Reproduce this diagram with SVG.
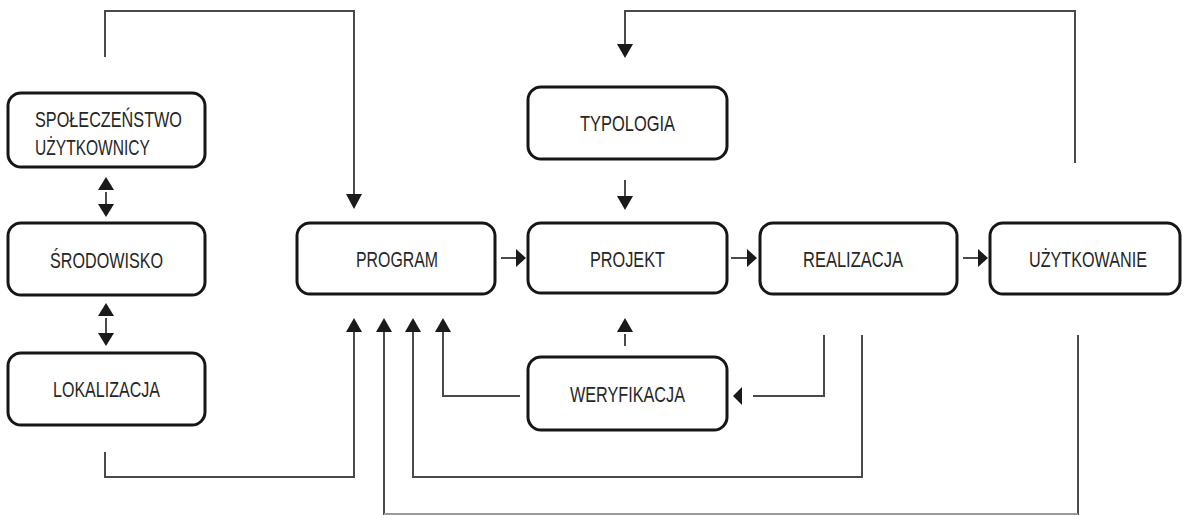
<svg xmlns="http://www.w3.org/2000/svg" width="1184" height="515" viewBox="0 0 1184 515">
  <style>
    .box { fill: #ffffff; stroke: #161616; stroke-width: 3; }
    .lbl { font-family: "Liberation Sans", Arial, sans-serif; font-size: 22px; fill: #262626; text-anchor: middle; }
    .lbl-left { text-anchor: start; }
    .wire { fill: none; stroke: #4a4a4a; stroke-width: 2; }
    .wire-faint { fill: none; stroke: #9a9a9a; stroke-width: 2; }
    .head { fill: #1a1a1a; stroke: none; }
  </style>

  <rect width="1184" height="515" fill="#ffffff"/>

  <!-- connectors -->
  <g id="connectors">
    <!-- feedback loop from the social context into PROGRAM -->
    <path class="wire" d="M105,57 V11 H354 V194"/>
    <polygon class="head" points="346,194 362,194 354,209"/>

    <!-- feedback loop from UŻYTKOWANIE into TYPOLOGIA -->
    <path class="wire" d="M1075,163 V11 H625 V44"/>
    <polygon class="head" points="617,44 633,44 625,58"/>

    <!-- two-way links in the left column -->
    <polygon class="head" points="106,177 98,190 114,190"/>
    <line class="wire" x1="106" y1="192" x2="106" y2="204"/>
    <polygon class="head" points="98,204 114,204 106,217"/>

    <polygon class="head" points="106,303 98,316 114,316"/>
    <line class="wire" x1="106" y1="318" x2="106" y2="333"/>
    <polygon class="head" points="98,333 114,333 106,346"/>

    <!-- TYPOLOGIA to PROJEKT -->
    <line class="wire" x1="625" y1="180" x2="625" y2="196"/>
    <polygon class="head" points="617,196 633,196 625,210"/>

    <!-- WERYFIKACJA to PROJEKT -->
    <polygon class="head" points="625,318 617,332 633,332"/>
    <line class="wire" x1="625" y1="334" x2="625" y2="346"/>

    <!-- main process chain -->
    <line class="wire" x1="501" y1="258" x2="518" y2="258"/>
    <polygon class="head" points="516,249 516,267 526,258"/>
    <line class="wire" x1="731" y1="258" x2="749" y2="258"/>
    <polygon class="head" points="747,249 747,267 757,258"/>
    <line class="wire" x1="963" y1="258" x2="980" y2="258"/>
    <polygon class="head" points="978,249 978,267 988,258"/>

    <!-- returns into PROGRAM from below -->
    <path class="wire" d="M105,452 V477 H354 V332"/>
    <polygon class="head" points="354,318 346,332 362,332"/>

    <path class="wire" d="M1078,335 V515"/>
    <path class="wire" d="M384,332 V515"/>
    <path class="wire-faint" d="M384,514 H1078"/>
    <polygon class="head" points="384,318 376,332 392,332"/>

    <path class="wire" d="M862,335 V477 H413 V332"/>
    <polygon class="head" points="413,318 405,332 421,332"/>

    <path class="wire" d="M520,396 H443 V332"/>
    <polygon class="head" points="443,318 435,332 451,332"/>

    <!-- REALIZACJA back to WERYFIKACJA -->
    <path class="wire" d="M824,335 V396 H753"/>
    <polygon class="head" points="742,387 742,405 733,396"/>
  </g>

  <!-- nodes -->
  <g id="spoleczenstwo">
    <rect class="box" x="8" y="93" width="197" height="74" rx="13"/>
    <text class="lbl lbl-left" x="35" y="127" textLength="147" lengthAdjust="spacingAndGlyphs">SPOŁECZEŃSTWO</text>
    <text class="lbl lbl-left" x="35" y="155" textLength="115" lengthAdjust="spacingAndGlyphs">UŻYTKOWNICY</text>
  </g>

  <g id="srodowisko">
    <rect class="box" x="8" y="223" width="197" height="72" rx="13"/>
    <text class="lbl" x="106.5" y="268" textLength="113" lengthAdjust="spacingAndGlyphs">ŚRODOWISKO</text>
  </g>

  <g id="lokalizacja">
    <rect class="box" x="8" y="353" width="197" height="72" rx="13"/>
    <text class="lbl" x="106.5" y="397" textLength="107" lengthAdjust="spacingAndGlyphs">LOKALIZACJA</text>
  </g>

  <g id="program">
    <rect class="box" x="297" y="223" width="198" height="71" rx="13"/>
    <text class="lbl" x="397" y="267" textLength="82" lengthAdjust="spacingAndGlyphs">PROGRAM</text>
  </g>

  <g id="typologia">
    <rect class="box" x="528" y="87" width="199" height="72" rx="13"/>
    <text class="lbl" x="627.5" y="131" textLength="95" lengthAdjust="spacingAndGlyphs">TYPOLOGIA</text>
  </g>

  <g id="projekt">
    <rect class="box" x="528" y="223" width="199" height="70" rx="13"/>
    <text class="lbl" x="627.5" y="267" textLength="75" lengthAdjust="spacingAndGlyphs">PROJEKT</text>
  </g>

  <g id="realizacja">
    <rect class="box" x="760" y="223" width="197" height="71" rx="13"/>
    <text class="lbl" x="853" y="267" textLength="100" lengthAdjust="spacingAndGlyphs">REALIZACJA</text>
  </g>

  <g id="uzytkowanie">
    <rect class="box" x="990" y="223" width="190" height="71" rx="13"/>
    <text class="lbl" x="1088" y="267" textLength="118" lengthAdjust="spacingAndGlyphs">UŻYTKOWANIE</text>
  </g>

  <g id="weryfikacja">
    <rect class="box" x="528" y="357" width="199" height="73" rx="13"/>
    <text class="lbl" x="627.5" y="402" textLength="115" lengthAdjust="spacingAndGlyphs">WERYFIKACJA</text>
  </g>
</svg>
